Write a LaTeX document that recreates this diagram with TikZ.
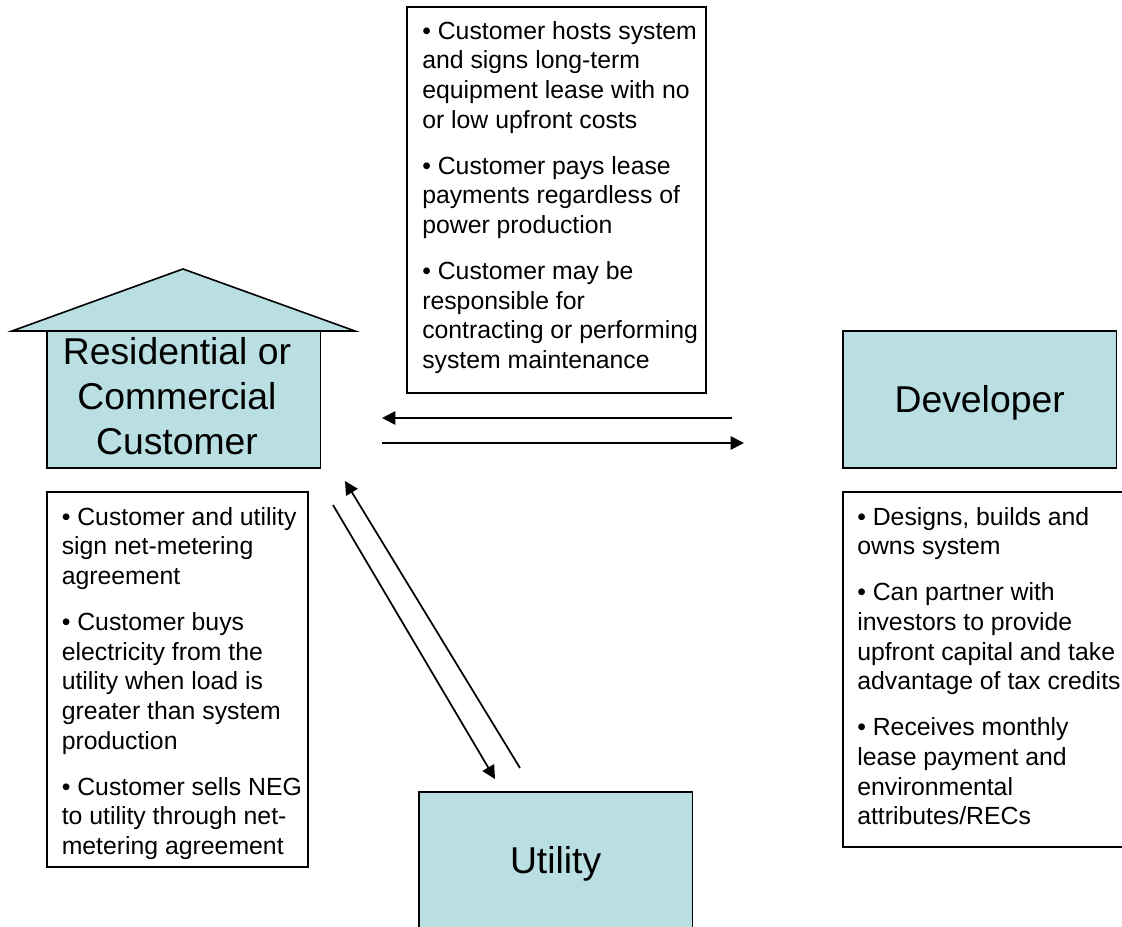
\documentclass[tikz,border=0pt]{standalone}
\usepackage{fontspec}
\setmainfont{Liberation Sans}
\usetikzlibrary{arrows.meta}
\definecolor{boxblue}{HTML}{B9DFE3}
\newcommand{\notesize}{\fontsize{18.6pt}{22.3pt}\selectfont}
\newcommand{\partysize}{\fontsize{28pt}{33.8pt}\selectfont}
\tikzset{
  party/.style={draw=black, fill=boxblue, line width=1.2pt, minimum width=205pt, minimum height=102.75pt,
    inner sep=0pt, outer sep=0pt, align=center, font=\partysize, anchor=north west},
  notebox/.style={draw=black, fill=white, line width=1.3pt, inner sep=0pt, outer sep=0pt, anchor=north west},
  notetext/.style={inner sep=0pt, align=left, font=\notesize, anchor=north west},
  flow/.style={-{Triangle[length=10pt,width=10pt]}, line width=1.3pt}
}
\begin{document}
\begin{tikzpicture}[x=0.75pt, y=-0.75pt]
  \useasboundingbox (0,0) rectangle (1122,927);

  % house roof
  \coordinate (rooftop) at (183,269);
  \coordinate (roofleft) at (12,331);
  \coordinate (roofright) at (355,331);
  \draw[fill=boxblue, line width=1.2pt] (roofleft) -- (rooftop) -- (roofright) -- cycle;

  % blue boxes
  \node[party] (customer) at (47,331) {\hspace*{-10pt}\raisebox{-4pt}[0pt][0pt]{\parbox{205pt}{\centering Residential or\\Commercial\\Customer}}};
  \node[party] (developer) at (843,331) {\raisebox{-10pt}[0pt][0pt]{Developer}};
  \node[party] (utility) at (419,792) {\raisebox{-10pt}[0pt][0pt]{Utility}};

  % white boxes
  \node[notebox, minimum width=224pt, minimum height=289.5pt] (leasebox) at (407,7) {};
  \node[notebox, minimum width=196pt, minimum height=281pt] (meterbox) at (47,492) {};
  \node[notebox, minimum width=225pt, minimum height=266pt] (ownerbox) at (843,492) {};

  % text of the white boxes
  \node[notetext] (leasetext) at ([shift={(15,14)}]leasebox.north west) {%
    • Customer hosts system\\and signs long-term\\equipment lease with no\\or low upfront costs\\[12pt]
    • Customer pays lease\\payments regardless of\\power production\\[12pt]
    • Customer may be\\responsible for\\contracting or performing\\system maintenance};
  \node[notetext] (metertext) at ([shift={(14.5,15)}]meterbox.north west) {%
    • Customer and utility\\sign net-metering\\agreement\\[12pt]
    • Customer buys\\electricity from the\\utility when load is\\greater than system\\production\\[12pt]
    • Customer sells NEG\\to utility through net-\\metering agreement};
  \node[notetext] (ownertext) at ([shift={(14,15)}]ownerbox.north west) {%
    • Designs, builds and\\owns system\\[12pt]
    • Can partner with\\investors to provide\\upfront capital and take\\advantage of tax credits\\[12pt]
    • Receives monthly\\lease payment and\\environmental\\attributes/RECs};

  % arrows
  \coordinate (devout) at (732,418);
  \coordinate (cusin) at (382,418);
  \coordinate (cusout) at (382,443);
  \coordinate (devin) at (744,443);
  \coordinate (utilout) at (520,768);
  \coordinate (cusback) at (345,481);
  \coordinate (cusdown) at (333,505);
  \coordinate (utilin) at (495,779);
  \draw[flow] (devout) -- (cusin);
  \draw[flow] (cusout) -- (devin);
  \draw[flow] (utilout) -- (cusback);
  \draw[flow] (cusdown) -- (utilin);
\end{tikzpicture}
\end{document}
